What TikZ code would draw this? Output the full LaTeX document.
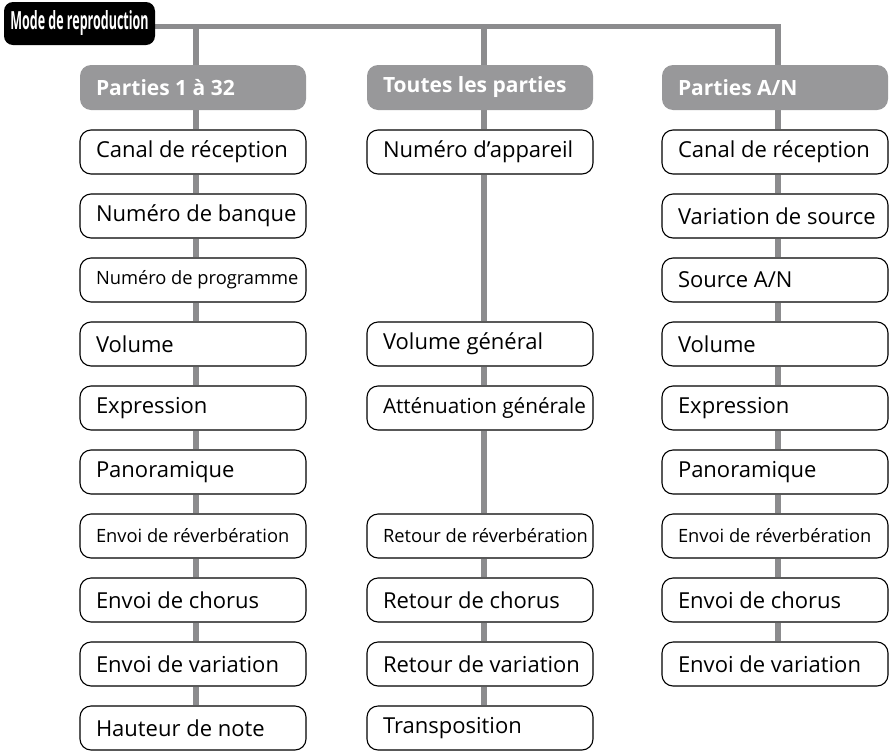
\documentclass[tikz,border=0pt]{standalone}
\usepackage{fontspec}
\setmainfont{Open Sans}
\usetikzlibrary{backgrounds}
\definecolor{linegray}{HTML}{8C8C8E}
\definecolor{headgray}{HTML}{98989A}
\newcommand\itemtxt[1]{\makebox[194pt][l]{#1}}
\newcommand\smalltxt{\fontsize{18.3}{20}\selectfont}
\newcommand\midtxt{\fontsize{20.7}{23}\selectfont}
\begin{document}
\begin{tikzpicture}[x=1pt,y=-1pt,
  item/.style={draw=black, line width=1.1pt, rounded corners=11pt, fill=white,
    minimum width=226pt, minimum height=44pt, inner xsep=16pt, inner ysep=0pt,
    font=\fontsize{22}{24}\selectfont},
  head/.style={fill=headgray, text=white, rounded corners=11pt,
    minimum width=226pt, minimum height=45pt, inner xsep=16pt, inner ysep=0pt,
    font=\bfseries\fontsize{21}{23}\selectfont},
  mode/.style={fill=black, text=white, rounded corners=9pt,
    minimum width=151pt, minimum height=43pt, inner sep=0pt,
    font=\bfseries\fontsize{25}{27}\selectfont},
  link/.style={draw=linegray, line width=5.5pt}]
\useasboundingbox (0,0) rectangle (889,750);

\node[mode] (mode) at (79.5,23.5) {\scalebox{0.5}[1]{Mode de reproduction}};

\node[head] (hA) at (193,87.5) {\itemtxt{Parties 1 à 32}};
\node[head] (hB) at (480,87.5) {\itemtxt{Toutes les parties}};
\node[head] (hC) at (775,87.5) {\itemtxt{Parties A/N}};

% column A
\node[item] (a0) at (193,152) {\itemtxt{Canal de réception}};
\node[item] (a1) at (193,216) {\itemtxt{Numéro de banque}};
\node[item] (a2) at (193,280) {\itemtxt{\smalltxt Numéro de programme}};
\node[item] (a3) at (193,344) {\itemtxt{Volume}};
\node[item] (a4) at (193,408) {\itemtxt{Expression}};
\node[item] (a5) at (193,472) {\itemtxt{Panoramique}};
\node[item] (a6) at (193,536) {\itemtxt{\smalltxt Envoi de réverbération}};
\node[item] (a7) at (193,600) {\itemtxt{Envoi de chorus}};
\node[item] (a8) at (193,664) {\itemtxt{Envoi de variation}};
\node[item] (a9) at (193,728) {\itemtxt{Hauteur de note}};

% column B
\node[item] (b0) at (480,152) {\itemtxt{Numéro d’appareil}};
\node[item] (b3) at (480,344) {\itemtxt{Volume général}};
\node[item] (b4) at (480,408) {\itemtxt{\midtxt Atténuation générale}};
\node[item] (b6) at (480,536) {\itemtxt{\smalltxt Retour de réverbération}};
\node[item] (b7) at (480,600) {\itemtxt{Retour de chorus}};
\node[item] (b8) at (480,664) {\itemtxt{Retour de variation}};
\node[item] (b9) at (480,728) {\itemtxt{Transposition}};

% column C
\node[item] (c0) at (775,152) {\itemtxt{Canal de réception}};
\node[item] (c1) at (775,216) {\itemtxt{Variation de source}};
\node[item] (c2) at (775,280) {\itemtxt{Source A/N}};
\node[item] (c3) at (775,344) {\itemtxt{Volume}};
\node[item] (c4) at (775,408) {\itemtxt{Expression}};
\node[item] (c5) at (775,472) {\itemtxt{Panoramique}};
\node[item] (c6) at (775,536) {\itemtxt{\smalltxt Envoi de réverbération}};
\node[item] (c7) at (775,600) {\itemtxt{Envoi de chorus}};
\node[item] (c8) at (775,664) {\itemtxt{Envoi de variation}};

\coordinate (jA) at (196,26.5);
\coordinate (jB) at (484,26.5);
\coordinate (jC) at (778,26.5);

\begin{scope}[on background layer]
  \draw[link] (mode.east |- jC) -- (jC) -- ([xshift=3pt]hC.north);
  \draw[link] (jA) -- ([xshift=3pt]hA.north);
  \draw[link] (jB) -- ([xshift=4pt]hB.north);
  \draw[link] ([xshift=3pt]hA.south) -- ([xshift=3pt]a0.north);
  \foreach \p/\q in {a0/a1,a1/a2,a2/a3,a3/a4,a4/a5,a5/a6,a6/a7,a7/a8,a8/a9}
    \draw[link] ([xshift=3pt]\p.south) -- ([xshift=3pt]\q.north);
  \draw[link] ([xshift=4pt]hB.south) -- ([xshift=4pt]b0.north);
  \foreach \p/\q in {b0/b3,b3/b4,b4/b6,b6/b7,b7/b8,b8/b9}
    \draw[link] ([xshift=4pt]\p.south) -- ([xshift=4pt]\q.north);
  \draw[link] ([xshift=3pt]hC.south) -- ([xshift=3pt]c0.north);
  \foreach \p/\q in {c0/c1,c1/c2,c2/c3,c3/c4,c4/c5,c5/c6,c6/c7,c7/c8}
    \draw[link] ([xshift=3pt]\p.south) -- ([xshift=3pt]\q.north);
\end{scope}
\end{tikzpicture}
\end{document}
